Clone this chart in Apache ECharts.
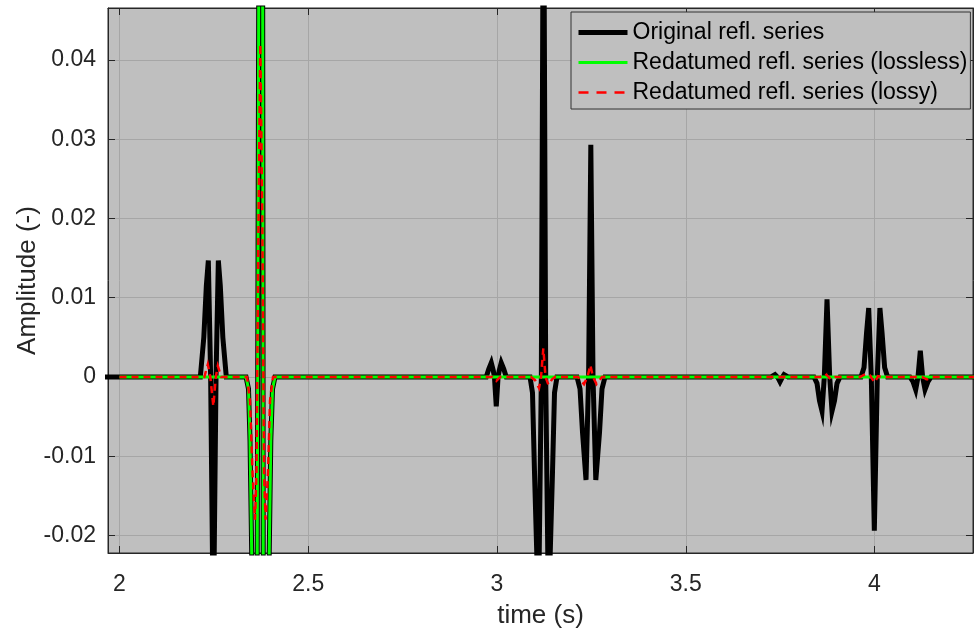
<!DOCTYPE html>
<html>
<head>
<meta charset="utf-8">
<script src="https://cdn.jsdelivr.net/npm/echarts@6/dist/echarts.min.js"></script>
<style>
html,body{margin:0;padding:0;background:#ffffff;}
#chart{width:974px;height:632px;}
</style>
</head>
<body>
<div id="chart"></div>
<script>
// ---- data (time in s, amplitude) ----
const seriesNames = ['Original refl. series', 'Redatumed refl. series (lossless)', 'Redatumed refl. series (lossy)'];

const xTickValues = [2, 2.5, 3, 3.5, 4];
const xTickLabels = ['2', '2.5', '3', '3.5', '4'];
const yTickValues = [-0.02, -0.01, 0, 0.01, 0.02, 0.03, 0.04];
const yTickLabels = ['-0.02', '-0.01', '0', '0.01', '0.02', '0.03', '0.04'];

const xRange = [1.9695, 4.2609];
const yRange = [-0.02221, 0.04656];

const originalSeries = [
  [1.90, 0],
  [2.2141, 0], [2.2233, 0.005], [2.2300, 0.0115], [2.2353, 0.0147], [2.2414, 0], [2.2485, -0.033],
  [2.2557, 0], [2.2618, 0.0147], [2.2670, 0.0115], [2.2737, 0.005], [2.2829, 0],
  [2.3351, 0], [2.3417, -0.0015], [2.3457, -0.008], [2.3502, -0.0222], [2.3576, -0.10], [2.3648, -0.0222],
  [2.3687, 0.0466], [2.3743, 0.10], [2.3793, 0.0466], [2.3807, -0.0222], [2.3881, -0.10], [2.3966, -0.0222],
  [2.4008, -0.008], [2.4053, -0.0015], [2.4119, 0],
  [2.9715, 0], [2.9781, 0.0010], [2.9848, 0.0018], [2.9901, 0.0008], [2.9932, 0], [2.998, -0.0037],
  [3.0028, 0], [3.0059, 0.0008], [3.0112, 0.0018], [3.0179, 0.0010], [3.0245, 0],
  [3.0874, 0], [3.0940, -0.002], [3.0993, -0.012], [3.1099, -0.03], [3.1174, 0], [3.1232, 0.07],
  [3.1290, 0], [3.1364, -0.03], [3.1470, -0.012], [3.1523, -0.002], [3.1589, 0],
  [3.2119, 0], [3.2199, -0.0015], [3.2265, -0.007], [3.2358, -0.013], [3.2426, 0], [3.2485, 0.0293],
  [3.2543, 0], [3.2617, -0.013], [3.2715, -0.007], [3.2781, -0.0015], [3.2861, 0],
  [3.7258, 0], [3.7364, 0.0003], [3.7444, -0.0001], [3.7497, -0.0006], [3.7550, -0.0001], [3.7603, 0.0003], [3.7709, 0],
  [3.8397, 0], [3.8477, -0.0008], [3.8543, -0.003], [3.8609, -0.0043], [3.8670, 0], [3.8742, 0.0098],
  [3.8813, 0], [3.8874, -0.0043], [3.8940, -0.003], [3.9007, -0.0008], [3.9086, 0],
  [3.9642, 0], [3.9722, 0.0012], [3.9788, 0.0055], [3.9846, 0.0087], [3.9915, 0], [3.9995, -0.0194],
  [4.0074, 0], [4.0143, 0.0087], [4.0201, 0.0055], [4.0268, 0.0012], [4.0347, 0],
  [4.0940, 0], [4.1020, -0.0006], [4.1091, -0.0016], [4.1152, 0], [4.1213, 0.0033],
  [4.1274, 0], [4.1338, -0.0016], [4.1417, -0.0006], [4.1497, 0],
  [4.30, 0]
];

const losslessSeries = [
  [2.0, 0],
  [2.3351, 0], [2.3417, -0.0015], [2.3457, -0.008], [2.3502, -0.0222], [2.3576, -0.10], [2.3648, -0.0222],
  [2.3687, 0.0466], [2.3743, 0.10], [2.3793, 0.0466], [2.3807, -0.0222], [2.3881, -0.10], [2.3966, -0.0222],
  [2.4008, -0.008], [2.4053, -0.0015], [2.4119, 0],
  [4.30, 0]
];

const lossySeries = [
  [2.0, 0],
  [2.2247, 0], [2.2339, 0.0016], [2.2406, 0], [2.2485, -0.0037], [2.2551, 0], [2.2604, 0.0014], [2.2697, 0],
  [2.3377, 0], [2.3457, -0.003], [2.3523, -0.012], [2.3589, -0.018], [2.3629, -0.012], [2.3682, 0.02],
  [2.3730, 0.042], [2.3783, 0.02], [2.3828, -0.012], [2.3868, -0.018], [2.3934, -0.012], [2.3987, -0.003], [2.4066, 0],
  [2.9874, 0], [2.998, -0.0005], [3.0086, 0],
  [3.0901, 0], [3.1007, -0.0004], [3.1113, -0.0014], [3.1166, 0], [3.1227, 0.0036], [3.1285, 0],
  [3.1364, -0.0010], [3.1457, -0.0003], [3.1536, 0],
  [3.2146, 0], [3.2305, -0.0009], [3.2397, 0], [3.2472, 0.0015], [3.2543, 0], [3.2636, -0.0009], [3.2781, 0],
  [3.8556, 0], [3.8702, 0.0004], [3.8781, 0], [3.8848, -0.0003], [3.8954, 0],
  [3.9616, 0], [3.9775, 0.0004], [3.9881, 0.0002], [4.0000, -0.0007], [4.0093, 0.0001], [4.0199, 0],
  [4.1258, 0], [4.1391, -0.0003], [4.1523, 0],
  [4.30, 0]
];

// ---- chart ----
const AXC = '#262626';
const FONT = "'Liberation Sans', Arial, Helvetica, sans-serif";
const PLOTBG = '#bfbfbf';
const GRIDC = '#a6a6a6';

function labelFor(values, labels, v) {
  for (let i = 0; i < values.length; i++) {
    if (Math.abs(values[i] - v) < 1e-9) return labels[i];
  }
  return '';
}

const chart = echarts.init(document.getElementById('chart'), null, {renderer: 'canvas'});

const tickCommon = {show: true, inside: true, length: 7, lineStyle: {color: AXC, width: 1}};

chart.setOption({
  animation: false,
  backgroundColor: '#ffffff',
  textStyle: {fontFamily: FONT},
  grid: {
    left: 108, right: 1, top: 8, bottom: 79,
    show: true, backgroundColor: PLOTBG, borderColor: AXC, borderWidth: 1,
    containLabel: false,
    outerBoundsMode: 'none'
  },
  legend: {
    orient: 'vertical',
    left: 571, top: 12,
    padding: [9, 3, 5, 5],
    itemWidth: 49, itemHeight: 14, itemGap: 7,
    backgroundColor: PLOTBG,
    borderColor: '#333333', borderWidth: 1, borderRadius: 0,
    itemStyle: {opacity: 0},
    textStyle: {fontFamily: FONT, fontSize: 23, color: '#000000'},
    data: [
      {name: seriesNames[0], lineStyle: {width: 5, color: '#000000'}},
      {name: seriesNames[1], lineStyle: {width: 3, color: '#00ff00'}},
      {name: seriesNames[2], lineStyle: {width: 2.5, color: '#ff0000', type: [10, 8]}}
    ]
  },
  xAxis: [{
    type: 'value', min: xRange[0], max: xRange[1], position: 'bottom',
    name: 'time (s)', nameLocation: 'middle', nameGap: 50,
    nameTextStyle: {fontFamily: FONT, fontSize: 26, color: AXC},
    axisLine: {show: true, onZero: false, lineStyle: {color: AXC, width: 1}},
    axisTick: tickCommon,
    axisLabel: {
      show: true, margin: 20, fontSize: 23, color: AXC, fontFamily: FONT,
      showMinLabel: false, showMaxLabel: false,
      formatter: v => labelFor(xTickValues, xTickLabels, v)
    },
    splitLine: {show: true, lineStyle: {color: GRIDC, width: 1}}
  }, {
    type: 'value', min: xRange[0], max: xRange[1], position: 'top',
    axisLine: {show: true, onZero: false, lineStyle: {color: AXC, width: 1}},
    axisTick: tickCommon,
    axisLabel: {show: false},
    splitLine: {show: false}
  }],
  yAxis: [{
    type: 'value', min: yRange[0], max: yRange[1], position: 'left',
    name: 'Amplitude (-)', nameLocation: 'middle', nameGap: 67,
    nameMoveOverlap: false,
    nameTextStyle: {fontFamily: FONT, fontSize: 26, color: AXC},
    axisLine: {show: true, onZero: false, lineStyle: {color: AXC, width: 1}},
    axisTick: tickCommon,
    axisLabel: {
      show: true, margin: 12, fontSize: 23, color: AXC, fontFamily: FONT,
      showMinLabel: false, showMaxLabel: false,
      formatter: v => labelFor(yTickValues, yTickLabels, v)
    },
    splitLine: {show: true, lineStyle: {color: GRIDC, width: 1}}
  }, {
    type: 'value', min: yRange[0], max: yRange[1], position: 'right',
    axisLine: {show: true, onZero: false, lineStyle: {color: AXC, width: 1}},
    axisTick: tickCommon,
    axisLabel: {show: false},
    splitLine: {show: false}
  }],
  series: [{
    name: seriesNames[0], type: 'line', data: originalSeries,
    xAxisIndex: 0, yAxisIndex: 0,
    showSymbol: false, symbol: 'none', clip: true, z: 2,
    lineStyle: {color: '#000000', width: 5, cap: 'butt', join: 'miter'},
    itemStyle: {color: '#000000'}
  }, {
    name: seriesNames[1], type: 'line', data: losslessSeries,
    xAxisIndex: 0, yAxisIndex: 0,
    showSymbol: false, symbol: 'none', clip: true, z: 3,
    lineStyle: {color: '#00ff00', width: 3, cap: 'butt', join: 'miter'},
    itemStyle: {color: '#00ff00'}
  }, {
    name: seriesNames[2], type: 'line', data: lossySeries,
    xAxisIndex: 0, yAxisIndex: 0,
    showSymbol: false, symbol: 'none', clip: true, z: 4,
    lineStyle: {color: '#ff0000', width: 2.5, type: [7, 5], cap: 'butt', join: 'miter'},
    itemStyle: {color: '#ff0000'}
  }]
});
</script>
</body>
</html>
